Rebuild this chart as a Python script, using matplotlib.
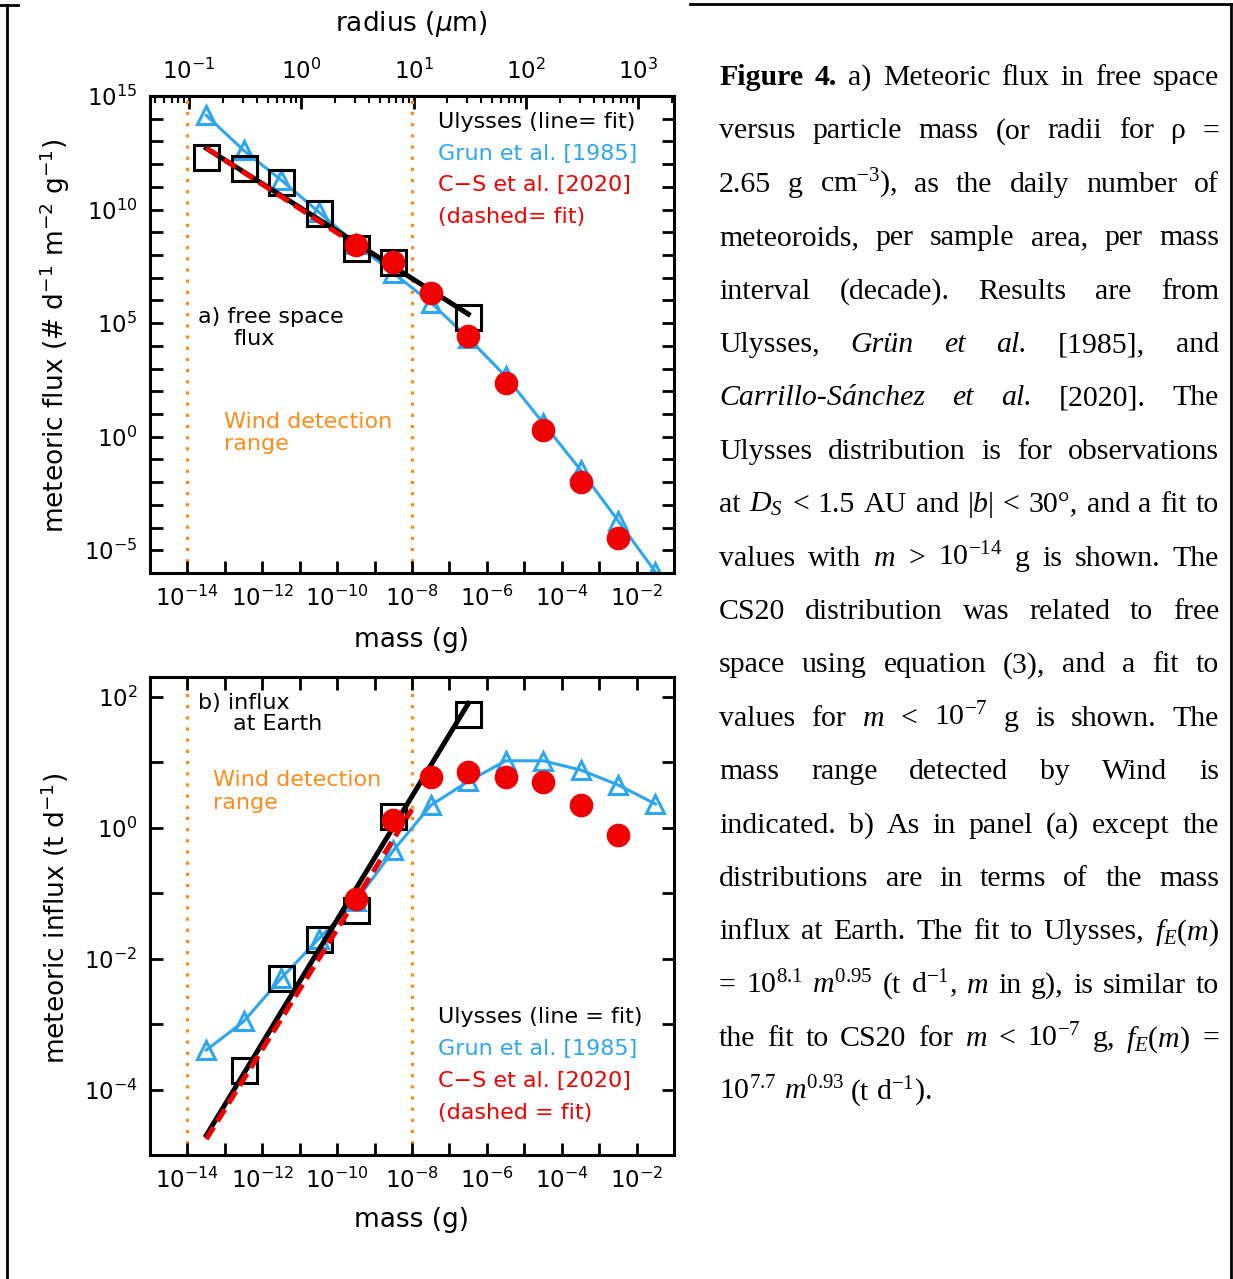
import matplotlib
matplotlib.use('Agg')
import matplotlib.pyplot as plt
import matplotlib.ticker as mticker
from matplotlib.lines import Line2D
import numpy as np

W, H = 1233, 1279

# mass bin centres (g)
mass_grun = [3.2e-14, 3.2e-13, 3.2e-12, 3.2e-11, 3.2e-10, 3.2e-9, 3.2e-8,
             3.2e-7, 3.2e-6, 3.2e-5, 3.2e-4, 3.2e-3, 3.2e-2]
mass_uly = [3.2e-14, 3.2e-13, 3.2e-12, 3.2e-11, 3.2e-10, 3.2e-9, 3.2e-7]
mass_cs = [3.2e-10, 3.2e-9, 3.2e-8, 3.2e-7, 3.2e-6, 3.2e-5, 3.2e-4, 3.2e-3]

# panel a: free space flux (# d-1 m-2 g-1)
flux_grun = [1.4e14, 4.0e12, 2.0e11, 7.9e9, 3.0e8, 1.6e7, 7.9e5, 2.2e4,
             4.5e2, 4.0, 3.4e-2, 2.0e-4, 1.1e-6]
flux_uly = [2.0e12, 6.8e11, 1.6e11, 7.1e9, 2.0e8, 4.9e7, 1.8e5]
flux_cs = [2.8e8, 4.9e7, 2.1e6, 2.7e4, 2.3e2, 1.95, 1.0e-2, 3.4e-5]

# panel b: influx at Earth (t d-1)
influx_grun = [4.0e-4, 1.1e-3, 5.0e-3, 2.0e-2, 7.6e-2, 0.45, 2.2, 5.1,
               10.5, 10.5, 7.6, 4.5, 2.3]
influx_uly = [6.3e-6, 2.0e-4, 5.1e-3, 2.0e-2, 5.5e-2, 1.5, 55.0]
influx_cs = [8.1e-2, 1.3, 6.0, 7.1, 5.9, 4.9, 2.2, 0.76]

# fit lines (end points)
fit_uly_m = [3.2e-14, 3.2e-7]
fit_uly_flux = [5.0e12, 2.5e5]
fit_uly_influx = [2.0e-5, 79.0]
fit_cs_m_a = [3.2e-14, 3.2e-10]
fit_cs_flux = [5.1e12, 2.7e8]
fit_cs_m_b = [3.2e-14, 1.0e-8]
fit_cs_influx = [1.75e-5, 1.9]

wind_range = [1e-14, 1e-8]

BLUE = '#2ea6ef'
RED = '#f00000'
ORANGE = '#ff8c1a'

plt.rcParams['font.family'] = 'DejaVu Sans'
plt.rcParams['mathtext.fontset'] = 'dejavusans'
plt.rcParams['mathtext.rm'] = 'Liberation Serif'
plt.rcParams['mathtext.it'] = 'Liberation Serif:italic'
plt.rcParams['mathtext.bf'] = 'Liberation Serif:bold'


def fx(x):
    return x / W


def fy(y):
    return 1 - y / H


fig = plt.figure(figsize=(W / 100, H / 100), dpi=100)
ax1 = fig.add_axes([fx(150), fy(573), 524 / W, 477 / H])
ax2 = fig.add_axes([fx(150), fy(1155), 524 / W, 478 / H])


def style(ax, ylim, yexp, ylab_every, top):
    ax.set_xscale('log')
    ax.set_yscale('log')
    ax.set_xlim(1e-15, 1e-1)
    ax.set_ylim(*ylim)
    xe = list(range(-15, 0))
    ax.set_xticks([10.0 ** e for e in xe])
    ax.set_xticklabels(['$10^{%d}$' % e if e % 2 == 0 else '' for e in xe])
    ax.set_yticks([10.0 ** e for e in yexp])
    ax.set_yticklabels(['$10^{%d}$' % e if e % ylab_every == 0 else '' for e in yexp])
    ax.xaxis.set_minor_locator(mticker.NullLocator())
    ax.yaxis.set_minor_locator(mticker.NullLocator())
    ax.tick_params(which='both', direction='in', length=9, width=2,
                   top=top, right=True, labelsize=16.5, pad=9)
    for s in ax.spines.values():
        s.set_linewidth(2.2)
    for x in wind_range:
        ax.axvline(x, color=ORANGE, ls=(0, (1, 2.5)), lw=2.3, zorder=1)


style(ax1, (1e-6, 1e15), range(-6, 16), 5, False)
style(ax2, (1e-5, 2e2), range(-5, 3), 2, True)

# panel a
ax1.plot(mass_grun, flux_grun, color=BLUE, lw=2.2, marker='^', ms=13,
         mfc='none', mec=BLUE, mew=2.2, zorder=2)
ax1.plot(mass_uly, flux_uly, ls='none', marker='s', ms=18, mfc='none',
         mec='black', mew=2.2, zorder=3)
ax1.plot(fit_uly_m, fit_uly_flux, color='black', lw=3.6, zorder=4)
ax1.plot(fit_cs_m_a, fit_cs_flux, color=RED, lw=3.6, ls=(0, (2.8, 1.4)), zorder=5)
ax1.plot(mass_cs, flux_cs, ls='none', marker='o', ms=16, color=RED, zorder=6)

# panel b
ax2.plot(mass_grun, influx_grun, color=BLUE, lw=2.2, marker='^', ms=13,
         mfc='none', mec=BLUE, mew=2.2, zorder=2)
ax2.plot(mass_uly, influx_uly, ls='none', marker='s', ms=18, mfc='none',
         mec='black', mew=2.2, zorder=3)
ax2.plot(fit_uly_m, fit_uly_influx, color='black', lw=3.6, zorder=4)
ax2.plot(fit_cs_m_b, fit_cs_influx, color=RED, lw=3.6, ls=(0, (2.8, 1.4)), zorder=5)
ax2.plot(mass_cs, influx_cs, ls='none', marker='o', ms=16, color=RED, zorder=6)

# radius axis on top of panel a
rho = 2.65


def m2r(m):
    m = np.clip(np.asarray(m, dtype=float), 1e-300, None)
    return 1e4 * np.cbrt(3 * m / (4 * np.pi * rho))


def r2m(r):
    r = np.asarray(r, dtype=float)
    return 4 / 3 * np.pi * rho * (r * 1e-4) ** 3


sec = ax1.secondary_xaxis('top', functions=(m2r, r2m))
sec.set_xticks([0.1, 1, 10, 100, 1000])
sec.set_xticklabels(['$10^{-1}$', '$10^{0}$', '$10^{1}$', '$10^{2}$', '$10^{3}$'])
sec.xaxis.set_minor_locator(mticker.LogLocator(base=10, subs=np.arange(2, 10), numticks=50))
sec.xaxis.set_minor_formatter(mticker.NullFormatter())
sec.tick_params(which='major', direction='in', length=9, width=2, labelsize=16.5, pad=9)
sec.tick_params(which='minor', direction='in', length=5, width=1.5)
for s in sec.spines.values():
    s.set_linewidth(2.2)

# axis labels
lab = dict(fontsize=19, ha='center', va='center')
fig.text(fx(411), fy(24), 'radius ($\\mu$m)', **lab)
fig.text(fx(411), fy(640), 'mass (g)', **lab)
fig.text(fx(411), fy(1220), 'mass (g)', **lab)
fig.text(fx(55), fy(336), 'meteoric flux (# d$^{-1}$ m$^{-2}$ g$^{-1}$)', rotation=90, **lab)
fig.text(fx(55), fy(918), 'meteoric influx (t d$^{-1}$)', rotation=90, **lab)

# in-panel annotations
ann = dict(fontsize=16, ha='left', va='center')
fig.text(fx(198), fy(317), 'a) free space', **ann)
fig.text(fx(233), fy(339), 'flux', **ann)
fig.text(fx(224), fy(422), 'Wind detection', color=ORANGE, **ann)
fig.text(fx(224), fy(444), 'range', color=ORANGE, **ann)
fig.text(fx(198), fy(703), 'b) influx', **ann)
fig.text(fx(233), fy(724), 'at Earth', **ann)
fig.text(fx(213), fy(780), 'Wind detection', color=ORANGE, **ann)
fig.text(fx(213), fy(803), 'range', color=ORANGE, **ann)

key_a = [('Ulysses (line= fit)', 'black'), ('Grun et al. [1985]', BLUE),
         ('C\u2212S et al. [2020]', RED), ('(dashed= fit)', RED)]
key_b = [('Ulysses (line = fit)', 'black'), ('Grun et al. [1985]', BLUE),
         ('C\u2212S et al. [2020]', RED), ('(dashed = fit)', RED)]
for i, (t, c) in enumerate(key_a):
    fig.text(fx(438), fy(122 + i * 31.7), t, color=c, **ann)
for i, (t, c) in enumerate(key_b):
    fig.text(fx(438), fy(1017 + i * 32), t, color=c, **ann)

# caption, justified line by line
caption = [
    "**Figure** **4.** a) Meteoric flux in free space",
    "versus particle mass (or radii for \u03c1 =",
    "2.65 g cm$^{\\mathrm{-3}}$), as the daily number of",
    "meteoroids, per sample area, per mass",
    "interval (decade). Results are from",
    "Ulysses, *Grün* *et* *al.* [1985], and",
    "*Carrillo-Sánchez* *et* *al.* [2020]. The",
    "Ulysses distribution is for observations",
    "at $D_S$ < 1.5 AU and |$b$| < 30°, and a fit to",
    "values with $m$ > 10$^{\\mathrm{-14}}$ g is shown. The",
    "CS20 distribution was related to free",
    "space using equation (3), and a fit to",
    "values for $m$ < 10$^{\\mathrm{-7}}$ g is shown. The",
    "mass range detected by Wind is",
    "indicated. b) As in panel (a) except the",
    "distributions are in terms of the mass",
    "influx at Earth. The fit to Ulysses, $f_E$($m$)",
    "= 10$^{\\mathrm{8.1}}$ $m^{\\mathrm{0.95}}$ (t d$^{\\mathrm{-1}}$, $m$ in g), is similar to",
    "the fit to CS20 for $m$ < 10$^{\\mathrm{-7}}$ g, $f_E$($m$) =",
    "10$^{\\mathrm{7.7}}$ $m^{\\mathrm{0.93}}$ (t d$^{\\mathrm{-1}}$).",
]
cap_left, cap_right = 719, 1219
cap_y0, cap_dy = 85, 53.4
renderer = fig.canvas.get_renderer()
for i, line in enumerate(caption):
    y = cap_y0 + i * cap_dy
    arts = []
    for tok in line.split(' '):
        kw = dict(fontsize=21.5, family='Liberation Serif', math_fontfamily='custom',
                  ha='left', va='baseline')
        if tok.startswith('**'):
            tok = tok.strip('*')
            kw['fontweight'] = 'bold'
        elif tok.startswith('*'):
            tok = tok.strip('*')
            kw['fontstyle'] = 'italic'
        arts.append(fig.text(0, fy(y), tok, **kw))
    widths = [a.get_window_extent(renderer).width for a in arts]
    if i < len(caption) - 1 and len(arts) > 1:
        gap = (cap_right - cap_left - sum(widths)) / (len(arts) - 1)
    else:
        gap = 7
    x = cap_left
    for a, w in zip(arts, widths):
        a.set_x(fx(x))
        x += w + gap

# page frame
frame = dict(transform=fig.transFigure, color='black', lw=2)
fig.add_artist(Line2D([fx(7), fx(7)], [fy(5), fy(H)], **frame))
fig.add_artist(Line2D([fx(0), fx(18)], [fy(5), fy(5)], **frame))
fig.add_artist(Line2D([fx(690), fx(1232)], [fy(4), fy(4)], **frame))
fig.add_artist(Line2D([fx(1231), fx(1231)], [fy(4), fy(H)], **frame))

fig.savefig('out.png', dpi=100)
